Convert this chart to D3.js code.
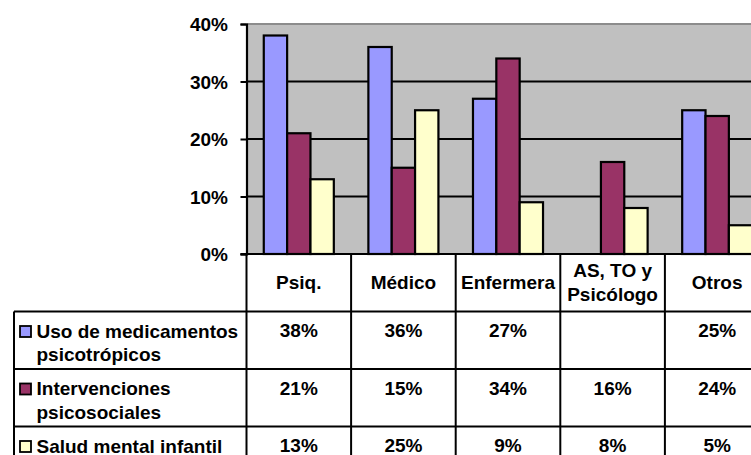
<!DOCTYPE html>
<html>
<head>
<meta charset="utf-8">
<script src="https://cdn.jsdelivr.net/npm/d3@7"></script>
<style>
  html, body { margin: 0; padding: 0; background: #fff; overflow: hidden; }
  svg { display: block; font-family: "Liberation Sans", Arial, sans-serif; font-weight: bold; }
</style>
</head>
<body>
<svg id="chart" width="751" height="455"></svg>
<script>
// Categories (header lines of the data table)
const categories = ["Psiq.", "Médico", "Enfermera", "AS, TO y Psicólogo", "Otros"];
const categoryLines = [["Psiq."], ["Médico"], ["Enfermera"], ["AS, TO y", "Psicólogo"], ["Otros"]];

// Series values (%)
const usoMedicamentos = [38, 36, 27, null, 25];
const intervenciones = [21, 15, 34, 16, 24];
const saludInfantil = [13, 25, 9, 8, 5];

// Series labels (legend column of the data table)
const seriesLabels = [
  ["Uso de medicamentos", "psicotrópicos"],
  ["Intervenciones", "psicosociales"],
  ["Salud mental infantil"]
];
const seriesColors = ["#9999FF", "#993366", "#FFFFCC"];
const seriesKeys = ["uso", "interv", "salud"];

// Y axis ticks (%)
const yTicks = [0, 10, 20, 30, 40];

const series = [usoMedicamentos, intervenciones, saludInfantil];

const svg = d3.select("#chart");

const plotLeft = 246.5, plotTop = 24, plotBottom = 254;
const catWidth = 104.6;
const plotRight = plotLeft + catWidth * categories.length;
const tableLeft = 14;
const rowH = 57.5;

const y = d3.scaleLinear().domain([0, 40]).range([plotBottom, plotTop]);
const x = d3.scaleBand().domain(categories).range([plotLeft, plotRight]);
const xs = d3.scaleBand().domain(seriesKeys).range([0, x.bandwidth()])
  .paddingInner(0).paddingOuter(0.74);

// Plot background
svg.append("rect")
  .attr("x", plotLeft).attr("y", plotTop)
  .attr("width", plotRight - plotLeft).attr("height", plotBottom - plotTop)
  .attr("fill", "#C0C0C0");

// Top border
svg.append("line")
  .attr("x1", plotLeft).attr("x2", plotRight)
  .attr("y1", y(40)).attr("y2", y(40))
  .attr("stroke", "#8c8c8c").attr("stroke-width", 2);

// Gridlines
svg.append("g").selectAll("line")
  .data(yTicks.filter(t => t > 0 && t < 40))
  .join("line")
  .attr("x1", plotLeft).attr("x2", plotRight)
  .attr("y1", d => y(d)).attr("y2", d => y(d))
  .attr("stroke", "#000").attr("stroke-width", 2);

// Bars
const barData = [];
categories.forEach((c, i) => {
  seriesKeys.forEach((k, j) => {
    const v = series[j][i];
    if (v != null) barData.push({ c, k, v, color: seriesColors[j] });
  });
});
svg.append("g").selectAll("rect")
  .data(barData)
  .join("rect")
  .attr("x", d => x(d.c) + xs(d.k))
  .attr("y", d => y(d.v))
  .attr("width", xs.bandwidth())
  .attr("height", d => y(0) - y(d.v))
  .attr("fill", d => d.color)
  .attr("stroke", "#000").attr("stroke-width", 2.2);

// Y axis
const yAxis = svg.append("g")
  .attr("transform", `translate(${plotLeft},0)`)
  .call(d3.axisLeft(y).tickValues(yTicks).tickFormat(d => d + "%").tickSize(6).tickPadding(12.5));
yAxis.select(".domain").attr("stroke", "#000").attr("stroke-width", 2.2);
yAxis.selectAll(".tick line").attr("stroke", "#000").attr("stroke-width", 2);
yAxis.selectAll(".tick text")
  .attr("font-size", 19).attr("font-family", "Liberation Sans, Arial, sans-serif")
  .attr("font-weight", "bold").attr("fill", "#000").attr("dy", "0.36em");

// Baseline
svg.append("line")
  .attr("x1", plotLeft - 6).attr("x2", plotRight)
  .attr("y1", plotBottom).attr("y2", plotBottom)
  .attr("stroke", "#000").attr("stroke-width", 2);

// ---- Data table ----
const table = svg.append("g");
const rowTop = i => plotBottom + rowH * (i + 1);

// Header cells
categories.forEach((c, i) => {
  const lines = categoryLines[i];
  const cx = x(c) + x.bandwidth() / 2;
  const base = lines.length === 1 ? 289 : 277;
  lines.forEach((ln, k) => {
    table.append("text")
      .attr("x", cx).attr("y", base + k * 23.5)
      .attr("text-anchor", "middle").attr("font-size", 19)
      .attr("fill", "#000").text(ln);
  });
});

// Legend column and values
seriesLabels.forEach((lines, j) => {
  const top = rowTop(j);
  table.append("rect")
    .attr("x", 20).attr("y", top + 14.5)
    .attr("width", 11).attr("height", 11)
    .attr("fill", seriesColors[j]).attr("stroke", "#000").attr("stroke-width", 1.8);
  lines.forEach((ln, k) => {
    table.append("text")
      .attr("x", 36.5).attr("y", top + 26 + k * 23.5)
      .attr("font-size", 19).attr("fill", "#000").text(ln);
  });
  categories.forEach((c, i) => {
    const v = series[j][i];
    if (v == null) return;
    table.append("text")
      .attr("x", x(c) + x.bandwidth() / 2).attr("y", top + 25.5)
      .attr("text-anchor", "middle").attr("font-size", 19)
      .attr("fill", "#000").text(v + "%");
  });
});

// Table grid lines
[0, 1, 2].forEach(j => {
  table.append("line")
    .attr("x1", tableLeft).attr("x2", plotRight)
    .attr("y1", rowTop(j)).attr("y2", rowTop(j))
    .attr("stroke", "#000").attr("stroke-width", 2);
});
table.append("line")
  .attr("x1", tableLeft).attr("x2", tableLeft)
  .attr("y1", rowTop(0)).attr("y2", 460)
  .attr("stroke", "#000").attr("stroke-width", 2);
categories.forEach(c => {
  table.append("line")
    .attr("x1", x(c)).attr("x2", x(c))
    .attr("y1", plotBottom).attr("y2", 460)
    .attr("stroke", "#000").attr("stroke-width", 2);
});
</script>
</body>
</html>
